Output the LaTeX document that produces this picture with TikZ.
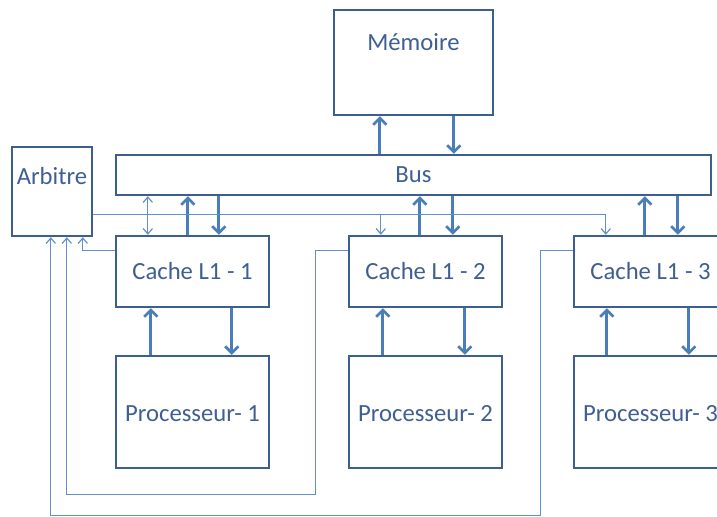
\documentclass[tikz,border=0pt]{standalone}
\usepackage{fontspec}
\setmainfont{Carlito}
\usetikzlibrary{arrows.meta,calc}
\definecolor{boxc}{HTML}{3D5F8F}
\definecolor{arrc}{HTML}{4A7EBB}
\definecolor{thinc}{HTML}{5F8FCC}
\definecolor{txtc}{HTML}{3F5F93}
\begin{document}
\begin{tikzpicture}[x=0.75pt,y=-0.75pt,
  box/.style={draw=boxc, line width=1.8pt, fill=white, inner sep=0pt, text=txtc, font=\fontsize{18.5}{22}\selectfont},
  lbl/.style={inner sep=0pt, text=txtc, font=\fontsize{18.5}{22}\selectfont},
  cachebox/.style={box, minimum width=114.75pt, minimum height=53.25pt},
  procbox/.style={box, minimum width=114.75pt, minimum height=84pt, text height=19pt, text depth=4.5pt},
  thickarr/.style={draw=arrc, line width=2pt, -{Straight Barb[length=5pt,width=10pt]}},
  thinarr/.style={draw=thinc, line width=0.9pt, -{Straight Barb[length=4pt,width=7pt]}},
  thinboth/.style={draw=thinc, line width=0.9pt, {Straight Barb[length=4pt,width=7pt]}-{Straight Barb[length=4pt,width=7pt]}}
]
\useasboundingbox (0,0) rectangle (717,517);
\clip (0,0) rectangle (717,517);

% boxes
\node[box, minimum width=119.25pt, minimum height=78.75pt] (mem) at (413.5,62.5) {};
\node[lbl] (memt) at (413.5,42) {Mémoire};
\node[box, minimum width=446.25pt, minimum height=30pt] (bus) at (413.5,175) {Bus};
\node[box, minimum width=60pt, minimum height=66.75pt] (arb) at (52,191.5) {};
\node[lbl] (arbt) at (52,176) {Arbitre};

\node[cachebox] (c1) at (192.5,271.5) {Cache L1 - 1};
\node[cachebox] (c2) at (425.5,271.5) {Cache L1 - 2};
\node[cachebox] (c3) at (650.5,271.5) {Cache L1 - 3};

\node[procbox] (p1) at (192.5,412) {Processeur- 1};
\node[procbox] (p2) at (425.5,412) {Processeur- 2};
\node[procbox] (p3) at (650.5,412) {Processeur- 3};

% memory <-> bus
\draw[thickarr] ($(bus.north west)+(265,0)$) -- ($(mem.south west)+(47,0)$);
\draw[thickarr] ($(mem.south west)+(121,0)$) -- ($(bus.north west)+(339,0)$);

% caches <-> bus
\draw[thickarr] ($(c1.north west)+(73,0)$) -- ($(bus.south west)+(73,0)$);
\draw[thickarr] ($(bus.south west)+(104,0)$) -- ($(c1.north west)+(104,0)$);
\draw[thinboth] ($(bus.south west)+(33,0)$) -- ($(c1.north west)+(33,0)$);

\draw[thickarr] ($(c2.north west)+(72,0)$) -- ($(bus.south west)+(305,0)$);
\draw[thickarr] ($(bus.south west)+(338,0)$) -- ($(c2.north west)+(105,0)$);

\draw[thickarr] ($(c3.north west)+(72,0)$) -- ($(bus.south west)+(530,0)$);
\draw[thickarr] ($(bus.south west)+(563,0)$) -- ($(c3.north west)+(105,0)$);

% processors <-> caches
\draw[thickarr] ($(p1.north west)+(36,0)$) -- ($(c1.south west)+(36,0)$);
\draw[thickarr] ($(c1.south west)+(117,0)$) -- ($(p1.north west)+(117,0)$);
\draw[thickarr] ($(p2.north west)+(35,0)$) -- ($(c2.south west)+(35,0)$);
\draw[thickarr] ($(c2.south west)+(117,0)$) -- ($(p2.north west)+(117,0)$);
\draw[thickarr] ($(p3.north west)+(34,0)$) -- ($(c3.south west)+(34,0)$);
\draw[thickarr] ($(c3.south west)+(116,0)$) -- ($(p3.north west)+(116,0)$);

% arbiter grant line
\draw[thinarr] ($(arb.north east)+(0,69)$) -| ($(c3.north west)+(33,0)$);
\coordinate (t2) at ($(c2.north west)+(33,-20)$);
\draw[thinarr] (t2) -- ($(c2.north west)+(33,0)$);

% request lines back to arbiter
\draw[thinarr] ($(c1.north west)+(0,16)$) -| ($(arb.south west)+(72,0)$);
\draw[thinarr] ($(c2.north west)+(0,16)$) -| ($(p1.south west)+(201,25)$) -| ($(arb.south west)+(56,0)$);
\draw[thinarr] ($(c3.north west)+(0,16)$) -| ($(p2.south west)+(193,46)$) -| ($(arb.south west)+(40,0)$);
\end{tikzpicture}
\end{document}
